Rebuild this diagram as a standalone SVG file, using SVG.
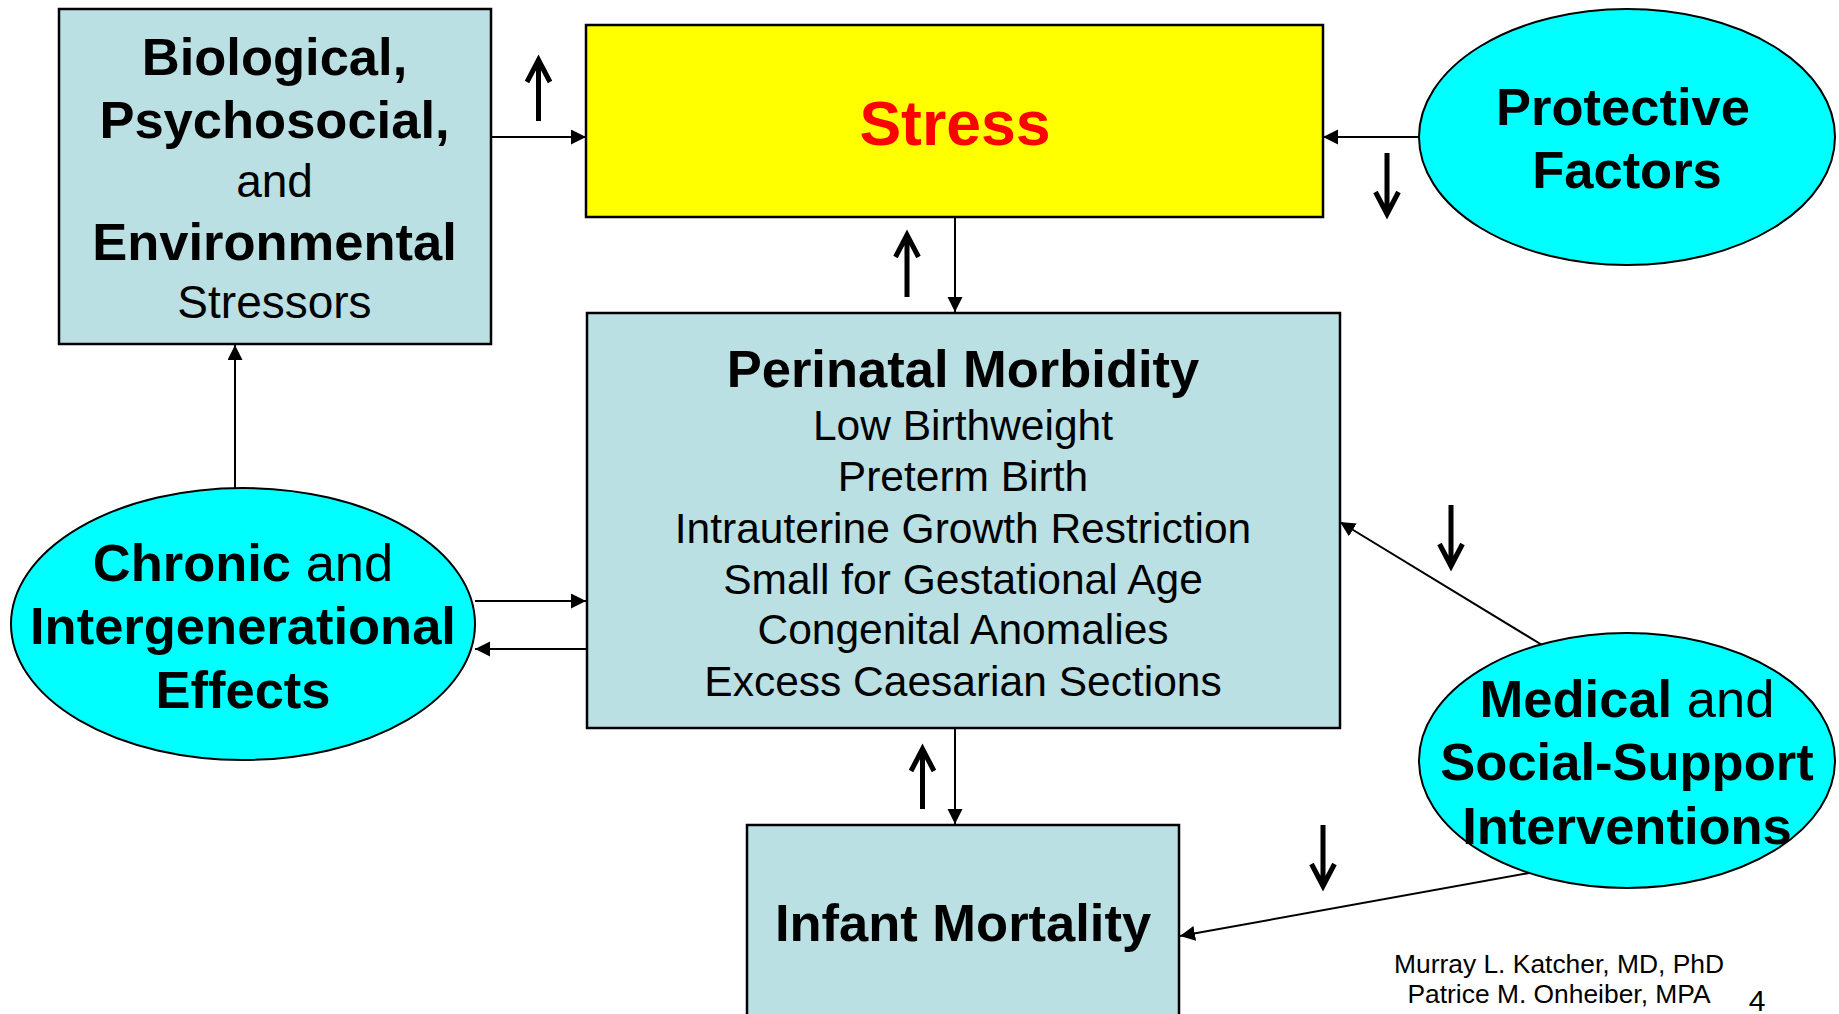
<svg xmlns="http://www.w3.org/2000/svg" width="1839" height="1014" viewBox="0 0 1839 1014">
  <style>
    .box { fill: #BAE0E3; stroke: #000; stroke-width: 2.5; }
    .ell { fill: #00FFFF; stroke: #000; stroke-width: 2; }
    .b { font-family: "Liberation Sans", Arial, sans-serif; font-weight: bold; font-size: 52.5px; fill: #000; text-anchor: middle; }
    .r { font-family: "Liberation Sans", Arial, sans-serif; font-weight: normal; font-size: 46px; fill: #000; text-anchor: middle; }
    .rn { font-weight: normal; }
    .item { font-family: "Liberation Sans", Arial, sans-serif; font-size: 42.5px; fill: #000; text-anchor: middle; }
    .foot { font-family: "Liberation Sans", Arial, sans-serif; font-size: 26.4px; fill: #000; text-anchor: middle; }
    .conn { stroke: #000; stroke-width: 2; fill: none; }
    .big { stroke: #000; stroke-width: 5; fill: none; stroke-linejoin: miter; }
  </style>
  <defs>
    <marker id="ah" markerUnits="userSpaceOnUse" markerWidth="16" markerHeight="16" refX="15" refY="7.5" orient="auto" viewBox="0 0 16 16">
      <path d="M0,0 L15,7.5 L0,15 z" fill="#000"/>
    </marker>
  </defs>
  <rect width="1839" height="1014" fill="#fff"/>

  <g id="connectors">
    <line class="conn" x1="491" y1="137" x2="586" y2="137" marker-end="url(#ah)"/>
    <line class="conn" x1="1419" y1="137" x2="1323" y2="137" marker-end="url(#ah)"/>
    <line class="conn" x1="955" y1="217" x2="955" y2="312" marker-end="url(#ah)"/>
    <line class="conn" x1="235" y1="489" x2="235" y2="345" marker-end="url(#ah)"/>
    <line class="conn" x1="475" y1="601" x2="586" y2="601" marker-end="url(#ah)"/>
    <line class="conn" x1="586" y1="649" x2="475" y2="649" marker-end="url(#ah)"/>
    <line class="conn" x1="1547" y1="648" x2="1340" y2="522" marker-end="url(#ah)"/>
    <line class="conn" x1="955" y1="728" x2="955" y2="824" marker-end="url(#ah)"/>
    <line class="conn" x1="1529" y1="873" x2="1180" y2="936" marker-end="url(#ah)"/>
  </g>

  <g id="trend-arrows">
    <path class="big" d="M538.5,121 L538.5,60 M527,82 L538.5,60 L550,82"/>
    <path class="big" d="M907,297 L907,235 M895.5,257 L907,235 L918.5,257"/>
    <path class="big" d="M922.5,809 L922.5,749 M911,771 L922.5,749 L934,771"/>
    <path class="big" d="M1387,153 L1387,214 M1375.5,192 L1387,214 L1398.5,192"/>
    <path class="big" d="M1451,505 L1451,566 M1439.5,544 L1451,566 L1462.5,544"/>
    <path class="big" d="M1323,825 L1323,886 M1311.5,864 L1323,886 L1334.5,864"/>
  </g>

  <g id="stressors">
    <rect class="box" x="59" y="9" width="432" height="335"/>
    <text class="b" x="274.5" y="75">Biological,</text>
    <text class="b" x="274.5" y="138">Psychosocial,</text>
    <text class="r" x="274.5" y="197">and</text>
    <text class="b" x="274.5" y="260">Environmental</text>
    <text class="r" x="274.5" y="318">Stressors</text>
  </g>

  <g id="stress">
    <rect x="586" y="25" width="737" height="192" fill="#FFFF00" stroke="#000" stroke-width="2.5"/>
    <text class="b" x="955" y="145" style="font-size:62.5px; fill:#FF0000">Stress</text>
  </g>

  <g id="protective">
    <ellipse class="ell" cx="1627" cy="137" rx="208" ry="128"/>
    <text class="b" x="1623" y="125">Protective</text>
    <text class="b" x="1627" y="188">Factors</text>
  </g>

  <g id="perinatal">
    <rect class="box" x="587" y="313" width="753" height="415"/>
    <text class="b" x="963" y="387">Perinatal Morbidity</text>
    <text class="item" x="963" y="440">Low Birthweight</text>
    <text class="item" x="963" y="491">Preterm Birth</text>
    <text class="item" x="963" y="543">Intrauterine Growth Restriction</text>
    <text class="item" x="963" y="594">Small for Gestational Age</text>
    <text class="item" x="963" y="644">Congenital Anomalies</text>
    <text class="item" x="963" y="696">Excess Caesarian Sections</text>
  </g>

  <g id="chronic">
    <ellipse class="ell" cx="243" cy="624" rx="232" ry="136"/>
    <text class="b" x="243" y="581">Chronic<tspan class="rn"> and</tspan></text>
    <text class="b" x="243" y="644">Intergenerational</text>
    <text class="b" x="243" y="708">Effects</text>
  </g>

  <g id="interventions">
    <ellipse class="ell" cx="1627" cy="760.5" rx="208" ry="127.5"/>
    <text class="b" x="1627" y="717">Medical<tspan class="rn"> and</tspan></text>
    <text class="b" x="1627" y="780">Social-Support</text>
    <text class="b" x="1627" y="844">Interventions</text>
  </g>

  <g id="infant">
    <rect class="box" x="747" y="825" width="432" height="200"/>
    <text class="b" x="963" y="941">Infant Mortality</text>
  </g>

  <g id="footer">
    <text class="foot" x="1559" y="973">Murray L. Katcher, MD, PhD</text>
    <text class="foot" x="1559" y="1003">Patrice M. Onheiber, MPA</text>
    <text class="foot" x="1757" y="1011" style="font-size:30px">4</text>
  </g>
</svg>
